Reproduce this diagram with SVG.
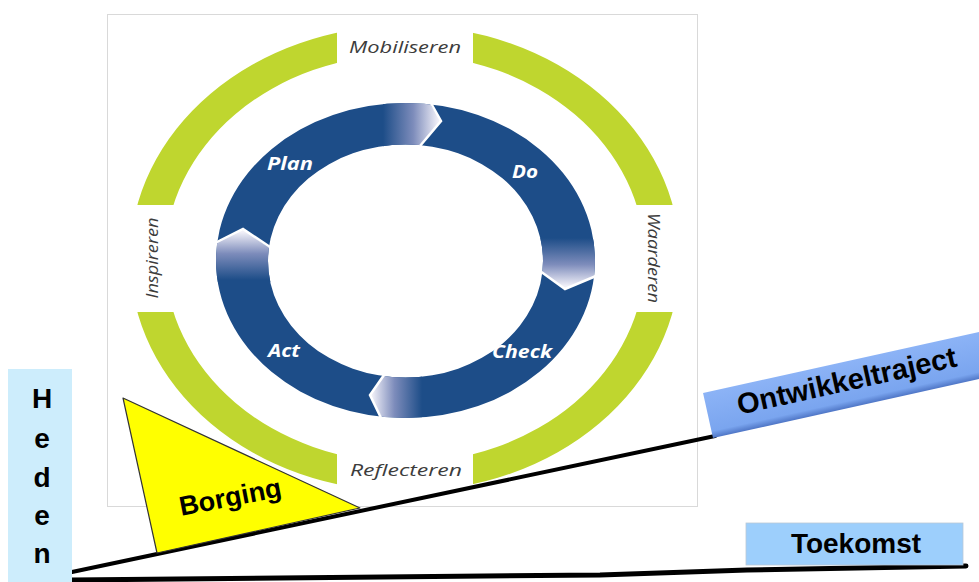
<svg xmlns="http://www.w3.org/2000/svg" width="979" height="582" viewBox="0 0 979 582">
<style>
.lbl{font-family:"Open Sans","DejaVu Sans",sans-serif;font-style:italic;font-size:16px;fill:#3c3c3c}
.pdca{font-family:"Open Sans","DejaVu Sans",sans-serif;font-style:italic;font-weight:bold;font-size:17px;fill:#ffffff}
.big{font-family:"Liberation Sans",Arial,sans-serif;font-weight:bold;fill:#000000}
.sep{fill:none;stroke:#ffffff;stroke-width:2.5;stroke-linejoin:miter}
</style>
<defs>
<mask id="gaps" maskUnits="userSpaceOnUse" x="0" y="0" width="979" height="582">
<rect x="0" y="0" width="979" height="582" fill="#fff"/>
<rect x="337" y="15" width="136" height="60" fill="#000"/>
<rect x="337" y="440" width="136" height="55" fill="#000"/>
<rect x="115" y="205" width="70" height="107" fill="#000"/>
<rect x="625" y="205" width="65" height="107" fill="#000"/>
</mask>
<clipPath id="ringClip">
<path clip-rule="evenodd" d="M595,260.5 A189.5,157.5 0 1,0 216,260.5 A189.5,157.5 0 1,0 595,260.5 Z M543,261 A137.5,116.5 0 1,0 268,261 A137.5,116.5 0 1,0 543,261 Z"/>
</clipPath>
<linearGradient id="gTop" gradientUnits="userSpaceOnUse" x1="383" y1="0" x2="438" y2="0">
<stop offset="0" stop-color="#1d4d88"/><stop offset="0.55" stop-color="#7d8cbb"/><stop offset="1" stop-color="#f1f0f8"/>
</linearGradient>
<linearGradient id="gRight" gradientUnits="userSpaceOnUse" x1="0" y1="238" x2="0" y2="286">
<stop offset="0" stop-color="#1d4d88"/><stop offset="0.55" stop-color="#7d8cbb"/><stop offset="1" stop-color="#f1f0f8"/>
</linearGradient>
<linearGradient id="gBottom" gradientUnits="userSpaceOnUse" x1="422" y1="0" x2="372" y2="0">
<stop offset="0" stop-color="#1d4d88"/><stop offset="0.55" stop-color="#7d8cbb"/><stop offset="1" stop-color="#f1f0f8"/>
</linearGradient>
<linearGradient id="gLeft" gradientUnits="userSpaceOnUse" x1="0" y1="280" x2="0" y2="232">
<stop offset="0" stop-color="#1d4d88"/><stop offset="0.55" stop-color="#7d8cbb"/><stop offset="1" stop-color="#f1f0f8"/>
</linearGradient>
<linearGradient id="gBox" x1="0" y1="0" x2="0" y2="1">
<stop offset="0" stop-color="#8cb3f6"/><stop offset="0.85" stop-color="#7aa5ef"/><stop offset="1" stop-color="#4f76c6"/>
</linearGradient>
</defs>

<g id="frame">
<rect x="107.5" y="14.5" width="590" height="492" fill="#ffffff" stroke="#d9d9d9" stroke-width="1"/>
</g>

<g id="outer-ring">
<path fill="#bfd62f" fill-rule="evenodd" mask="url(#gaps)" d="M680,258.5 A275,233 0 1,0 130,258.5 A275,233 0 1,0 680,258.5 Z M645,258.5 A240,204 0 1,0 165,258.5 A240,204 0 1,0 645,258.5 Z"/>
</g>

<g id="mobiliseren"><text class="lbl" x="405" y="53" text-anchor="middle" textLength="112" lengthAdjust="spacingAndGlyphs">Mobiliseren</text></g>
<g id="reflecteren"><text class="lbl" x="406" y="476" text-anchor="middle" textLength="112" lengthAdjust="spacingAndGlyphs">Reflecteren</text></g>
<g id="inspireren"><text class="lbl" transform="translate(158,258) rotate(-90)" x="0" y="0" text-anchor="middle" textLength="81" lengthAdjust="spacingAndGlyphs">Inspireren</text></g>
<g id="waarderen"><text class="lbl" transform="translate(648,258) rotate(90)" x="0" y="0" text-anchor="middle" textLength="90" lengthAdjust="spacingAndGlyphs">Waarderen</text></g>

<g id="pdca-ring">
<path fill="#1d4d88" fill-rule="evenodd" d="M595,260.5 A189.5,157.5 0 1,0 216,260.5 A189.5,157.5 0 1,0 595,260.5 Z M543,261 A137.5,116.5 0 1,0 268,261 A137.5,116.5 0 1,0 543,261 Z"/>
<g clip-path="url(#ringClip)">
<polygon fill="url(#gTop)" points="383,85 427,85 427,99 441,121 421,144 421,155 383,155"/>
<polygon fill="url(#gRight)" points="525,238 615,238 615,277 593,277 565,289 541,272 525,272"/>
<polygon fill="url(#gBottom)" points="422,365 383,365 383,377 370,395 382,418 382,430 422,430"/>
<polygon fill="url(#gLeft)" points="200,282 200,242 218,242 243,229 268,247 285,247 285,282"/>
</g>
<polyline class="sep" points="427,96 441,121 420,146"/>
<polyline class="sep" points="540,271 565,289 596,276"/>
<polyline class="sep" points="384,375 370,395 382,420"/>
<polyline class="sep" points="215,243 243,229 270,247"/>
</g>

<g id="plan"><text class="pdca" x="290" y="170" text-anchor="middle" textLength="46" lengthAdjust="spacingAndGlyphs">Plan</text></g>
<g id="do"><text class="pdca" x="525" y="178" text-anchor="middle" textLength="26" lengthAdjust="spacingAndGlyphs">Do</text></g>
<g id="check"><text class="pdca" x="522" y="358" text-anchor="middle" textLength="60" lengthAdjust="spacingAndGlyphs">Check</text></g>
<g id="act"><text class="pdca" x="284" y="357" text-anchor="middle" textLength="32" lengthAdjust="spacingAndGlyphs">Act</text></g>

<g id="connectors">
<line x1="72" y1="572" x2="715" y2="436" stroke="#000" stroke-width="4" stroke-linecap="round"/>
<path d="M72,580 L600,575 Q680,572 747,570 L966,566" fill="none" stroke="#000" stroke-width="5" stroke-linecap="round"/>
</g>

<g id="heden">
<rect x="8" y="369" width="64" height="215" fill="#cdedfc"/>
<text class="big" font-size="28" x="42" y="408" text-anchor="middle">H</text>
<text class="big" font-size="28" x="42" y="448" text-anchor="middle">e</text>
<text class="big" font-size="28" x="42" y="487" text-anchor="middle">d</text>
<text class="big" font-size="28" x="42" y="525" text-anchor="middle">e</text>
<text class="big" font-size="28" x="42" y="563" text-anchor="middle">n</text>
</g>

<g id="borging">
<polygon points="123,398 157,553 360,508" fill="#ffff00" stroke="#333333" stroke-width="1.2" stroke-linejoin="round"/>
<text class="big" font-size="27" transform="translate(232,506) rotate(-11)" x="0" y="0" text-anchor="middle">Borging</text>
</g>

<g id="ontwikkeltraject" transform="translate(713,438) rotate(-12.5)">
<rect x="0" y="-46" width="300" height="46" fill="url(#gBox)"/>
<text class="big" font-size="29" x="143" y="-17" text-anchor="middle">Ontwikkeltraject</text>
</g>

<g id="toekomst">
<rect x="746" y="523" width="217" height="42" fill="#9dcffc" stroke="#b9c9d6" stroke-width="0.8"/>
<text class="big" font-size="28" x="856" y="553" text-anchor="middle">Toekomst</text>
</g>
</svg>
